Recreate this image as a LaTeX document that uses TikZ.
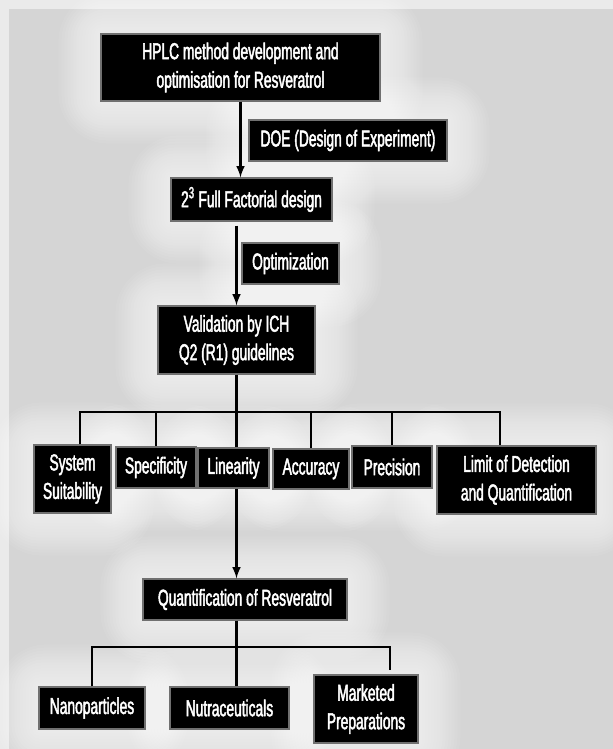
\documentclass[tikz,border=0pt]{standalone}
\usepackage{fontspec}
\setmainfont{Liberation Sans}[FakeStretch=0.60,FakeBold=2]
\usepackage{tikz}
\usetikzlibrary{
  arrows,
  calc,
  backgrounds
}
\definecolor{panelout}{RGB}{234,234,234}
\definecolor{panel}{RGB}{213,213,213}
\definecolor{boxedge}{RGB}{112,112,112}
\tikzset{>=latex}
\tikzset{box/.style={fill=black, draw=boxedge, line width=1.2bp, text=white,
    align=center, inner sep=0pt, font=\fontsize{23bp}{28.5bp}\selectfont}}
\tikzset{link/.style={line width=2.8bp}}

\begin{document}
\begin{tikzpicture}[x=1bp,y=-1bp]
  \useasboundingbox (0,0) rectangle (613,749);
  % top of the flow
  \node[box, minimum width=279bp, minimum height=67bp] (hplc) at (240.5,67.5)
    {HPLC method development and\\optimisation for Resveratrol};
  \node[box, minimum width=198bp, minimum height=41bp] (doe) at (348,140.5)
    {DOE (Design of Experiment)};
  \node[box, minimum width=161bp, minimum height=43bp] (factorial) at (251.5,199.5)
    {2\textsuperscript{3} Full Factorial design};
  \node[box, minimum width=97bp, minimum height=41bp] (optim) at (290.5,263.5)
    {Optimization};
  \node[box, minimum width=157bp, minimum height=68bp] (valid) at (236.5,340)
    {Validation by ICH\\Q2 (R1) guidelines};
  % validation parameters
  \node[box, minimum width=77bp, minimum height=68bp] (suit) at (72.5,479)
    {System\\Suitability};
  \node[box, minimum width=80bp, minimum height=41bp] (spec) at (156,467.5)
    {Specificity};
  \node[box, minimum width=71bp, minimum height=40bp] (lin) at (233.5,468)
    {Linearity};
  \node[box, minimum width=76bp, minimum height=40bp] (acc) at (311,469)
    {Accuracy};
  \node[box, minimum width=80bp, minimum height=42bp] (prec) at (392,467)
    {Precision};
  \node[box, minimum width=159bp, minimum height=68bp] (lod) at (516.5,480)
    {Limit of Detection\\and Quantification};
  % application
  \node[box, minimum width=204bp, minimum height=41bp] (quant) at (245,599.5)
    {Quantification of Resveratrol};
  \node[box, minimum width=106bp, minimum height=42bp] (nano) at (92,708)
    {Nanoparticles};
  \node[box, minimum width=119bp, minimum height=42bp] (nutra) at (229.5,708)
    {Nutraceuticals};
  \node[box, minimum width=104bp, minimum height=68bp] (market) at (366,709)
    {Marketed\\Preparations};

  \coordinate (barL) at (80,412);
  \coordinate (barR) at (500,412);
  \coordinate (subL) at (92,647);
  \coordinate (subR) at (390,647);

  % connectors
  \draw[link,->] (hplc.south) -- (hplc.south |- factorial.north);
  \draw[link,->] ($(valid.north |- factorial.south)+(0,4)$) -- (valid.north);
  \draw[link] (valid.south) -- (valid.south |- lin.north);
  \draw[link] (barL |- suit.north) -- (barL) -- (barR) -- (barR |- lod.north);
  \foreach \n in {spec,acc,prec}
    \draw[link] (\n.north |- barL) -- (\n.north);
  \draw[link,->] (valid.south |- lin.south) -- (valid.south |- quant.north);
  \draw[link] (valid.south |- quant.south) -- (valid.south |- nutra.north);
  \draw[link] (subL |- nano.north) -- (subL) -- (subR)
    -- ($(subR |- market.north)+(0,-4)$);

  % grey panel with white glow
  \begin{pgfonlayer}{background}
    \fill[panelout] (0,0) rectangle (613,749);
    \fill[panel] (9,9) rectangle (613,749);
    \foreach \n in {hplc,doe,factorial,optim,valid,suit,spec,lin,acc,prec,lod,
                    quant,nano,nutra,market}
      \foreach \r in {3,6,...,42}
        \fill[white, opacity=0.07, rounded corners=\r*1.2bp]
          ($(\n.north west)+(-\r,-\r)$) rectangle ($(\n.south east)+(\r,\r)$);
  \end{pgfonlayer}
\end{tikzpicture}
\end{document}
